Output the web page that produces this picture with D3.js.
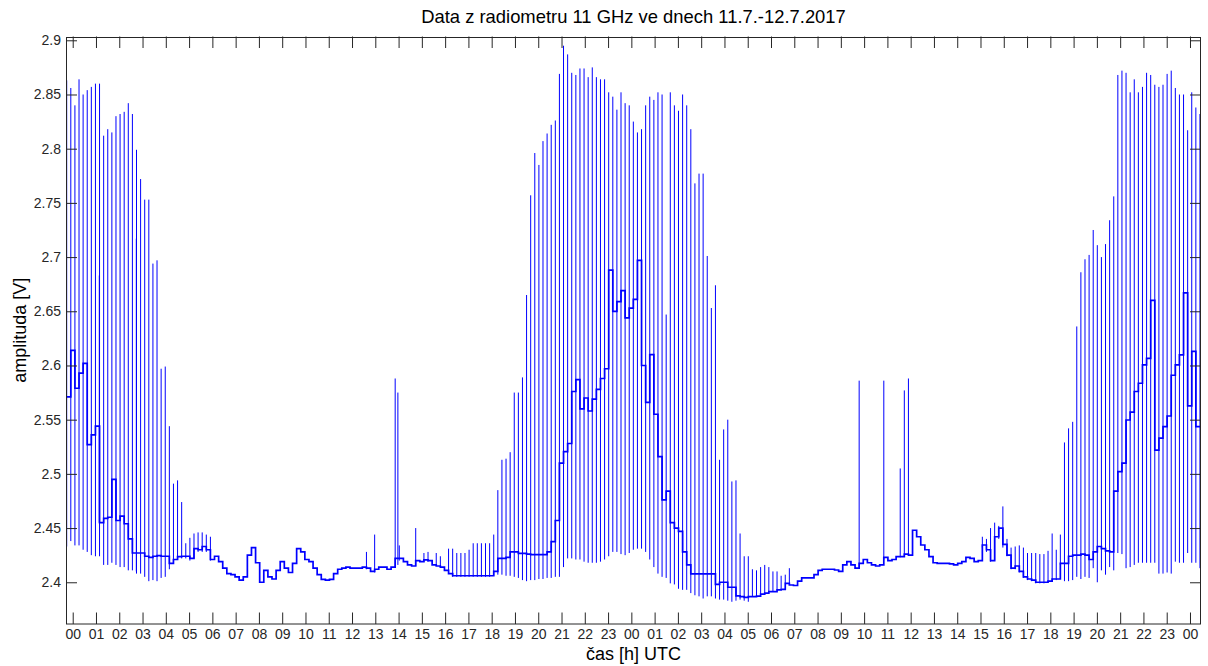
<!DOCTYPE html>
<html><head><meta charset="utf-8">
<script src="https://cdn.jsdelivr.net/npm/d3@7"></script>
<style>
body{margin:0;background:#fff}
text{font-family:"Liberation Sans",Arial,Helvetica,sans-serif}
</style>
</head><body>
<svg id="chart" width="1208" height="666"></svg>
<script>
// ---------- texts ----------
const titleText = "Data z radiometru 11 GHz ve dnech 11.7.-12.7.2017";
const xLabelText = "čas [h] UTC";
const yLabelText = "amplituda [V]";

// ---------- axes ----------
const xDomain = [-0.288, 48.473];          // hours from 11.7. 00:00 UTC
const yDomain = [2.3615, 2.9035];          // volts
const xTickValues = d3.range(0, 49);
const xTickLabels = ["00","01","02","03","04","05","06","07","08","09","10","11","12","13","14","15","16","17","18","19","20","21","22","23",
                     "00","01","02","03","04","05","06","07","08","09","10","11","12","13","14","15","16","17","18","19","20","21","22","23","00"];
const yTickValues = [2.4,2.45,2.5,2.55,2.6,2.65,2.7,2.75,2.8,2.85,2.9];
const yTickLabels = ["2.4","2.45","2.5","2.55","2.6","2.65","2.7","2.75","2.8","2.85","2.9"];

// ---------- data ----------
// calibration pulses every ~10.6 min, starting at spikeStart (hours)
const spikeStart = -0.258;
const spikePeriod = 0.1764;
const spikeHigh = [
2.863,2.856,2.840,2.864,2.850,2.854,2.857,2.860,2.860,2.812,
2.818,2.815,2.830,2.832,2.834,2.842,2.832,2.799,2.772,2.753,
2.753,2.694,2.697,2.597,2.599,2.544,2.491,2.494,2.474,2.436,
2.441,2.445,2.446,2.446,2.444,2.442,null,null,null,null,
null,null,null,null,null,null,null,null,null,null,
null,null,null,null,null,null,null,null,null,null,
null,null,null,null,null,null,null,null,null,null,
null,null,null,2.428,null,2.444,null,null,null,null,
2.588,2.434,null,null,null,2.450,null,2.427,2.428,null,
2.427,2.424,null,2.431,2.431,2.427,2.427,2.427,2.430,2.436,
2.436,2.436,2.436,2.436,2.444,2.485,2.513,2.514,2.520,2.575,
2.575,2.589,2.665,2.757,2.796,2.785,2.807,2.814,2.822,2.826,
2.869,2.895,2.887,2.870,2.868,2.874,2.874,2.866,2.875,2.866,
2.864,2.864,2.852,2.848,2.836,2.852,2.842,2.840,2.825,2.815,
2.818,2.840,2.848,2.845,2.852,2.850,2.647,2.852,2.840,2.835,
2.850,2.840,2.818,2.768,2.777,2.777,2.701,2.653,2.674,2.513,
2.541,2.550,2.493,2.494,2.445,2.424,2.424,2.412,2.411,2.414,
2.416,2.414,2.410,2.410,2.406,2.407,2.413,null,null,null,
null,null,null,null,null,null,null,null,null,null,
null,null,null,2.586,null,null,null,null,null,2.586,
null,null,null,2.505,2.577,2.588,null,null,null,null,
null,null,null,null,null,null,null,null,null,null,
null,null,null,2.442,2.440,2.450,2.455,2.452,2.470,2.440,
2.432,2.433,2.434,2.432,2.427,2.427,2.427,2.426,2.426,2.429,
2.445,2.430,2.444,2.529,2.542,2.548,2.636,2.686,2.698,2.702,
2.725,2.711,2.700,2.712,2.734,2.756,2.868,2.872,2.870,2.852,
2.864,2.852,2.857,2.870,2.868,2.859,2.857,2.859,2.869,2.872,
2.856,2.850,2.850,2.817,2.852,2.838,2.832];
const spikeLow = [
2.433,2.438,2.434,2.434,2.430,2.428,2.425,2.424,2.424,2.416,
2.416,2.418,2.416,2.414,2.414,2.411,2.411,2.408,2.408,2.405,
2.401,2.402,2.401,2.404,2.405,2.412,2.418,2.421,2.422,2.422,
2.420,2.422,2.428,2.428,2.428,2.420,null,null,null,null,
null,null,null,null,null,null,null,null,null,null,
null,null,null,null,null,null,null,null,null,null,
null,null,null,null,null,null,null,null,null,null,
null,null,null,2.412,null,2.409,null,null,null,null,
2.414,2.420,null,null,null,2.415,null,2.419,2.419,null,
2.415,2.414,null,2.408,2.405,2.405,2.405,2.405,2.405,2.405,
2.405,2.405,2.405,2.405,2.406,2.407,2.407,2.406,2.406,2.405,
2.404,2.402,2.401,2.402,2.402,2.403,2.403,2.404,2.404,2.405,
2.405,2.414,2.422,2.422,2.421,2.421,2.419,2.418,2.418,2.418,
2.419,2.421,2.424,2.428,2.428,2.426,2.425,2.427,2.430,2.431,
2.431,2.428,2.421,2.414,2.408,2.405,2.404,2.399,2.398,2.394,
2.393,2.393,2.390,2.388,2.387,2.385,2.387,2.387,2.385,2.384,
2.384,2.383,2.382,2.383,2.384,2.383,2.382,2.387,2.387,2.389,
2.390,2.391,2.391,2.393,2.394,2.399,2.398,null,null,null,
null,null,null,null,null,null,null,null,null,null,
null,null,null,2.414,null,null,null,null,null,2.421,
null,null,null,2.423,2.424,2.425,null,null,null,null,
null,null,null,null,null,null,null,null,null,null,
null,null,null,2.432,2.428,2.419,2.420,2.440,2.432,2.424,
2.412,2.412,2.409,2.404,2.402,2.401,2.399,2.399,2.399,2.400,
2.401,2.402,2.416,2.401,2.401,2.402,2.405,2.403,2.405,2.404,
2.413,2.400,2.411,2.407,2.414,2.411,2.427,2.426,2.413,2.414,
2.416,2.418,2.418,2.418,2.418,2.418,2.408,2.408,2.409,2.408,
2.419,2.418,2.418,2.427,2.418,2.418,2.413];
// signal level between pulses
const traceVals = [
2.571,2.614,2.579,2.593,2.602,2.527,2.536,2.544,2.455,2.459,
2.460,2.495,2.457,2.461,2.454,2.440,2.427,2.427,2.427,2.424,
2.423,2.424,2.4245,2.424,2.424,2.4175,2.421,2.4236,2.424,2.424,
2.422,2.431,2.430,2.433,2.430,2.421,2.424,2.419,2.413,2.408,
2.407,2.405,2.402,2.405,2.425,2.432,2.418,2.400,2.411,2.405,
2.403,2.411,2.419,2.413,2.409,2.4175,2.431,2.428,2.421,2.419,
2.413,2.407,2.4027,2.402,2.4027,2.408,2.412,2.413,2.414,2.413,
2.413,2.413,2.414,2.413,2.410,2.412,2.414,2.414,2.412,2.414,
2.422,2.422,2.419,2.416,2.415,2.420,2.419,2.4206,2.420,2.416,
2.415,2.414,2.411,2.408,2.406,2.406,2.406,2.406,2.406,2.406,
2.406,2.406,2.406,2.406,2.410,2.422,2.422,2.423,2.428,2.428,
2.4267,2.4267,2.426,2.4255,2.4255,2.4255,2.4255,2.428,2.4375,2.457,
2.510,2.5205,2.528,2.576,2.587,2.560,2.570,2.558,2.569,2.578,
2.588,2.597,2.688,2.650,2.659,2.669,2.644,2.653,2.661,2.697,
2.600,2.566,2.610,2.555,2.516,2.476,2.484,2.455,2.450,2.447,
2.428,2.416,2.4077,2.4077,2.4077,2.4077,2.4077,2.4077,2.398,2.400,
2.400,2.3954,2.3954,2.3874,2.3867,2.386,2.3867,2.3867,2.3873,2.389,
2.390,2.3913,2.3913,2.393,2.3935,2.399,2.3975,2.397,2.401,2.404,
2.404,2.404,2.407,2.411,2.412,2.412,2.412,2.4113,2.410,2.416,
2.419,2.416,2.413,2.4175,2.421,2.418,2.416,2.415,2.416,2.423,
2.420,2.421,2.4236,2.4236,2.426,2.425,2.448,2.442,2.4344,2.430,
2.4236,2.418,2.4175,2.4175,2.4175,2.417,2.416,2.4175,2.419,2.423,
2.422,2.419,2.420,2.4344,2.430,2.420,2.442,2.450,2.435,2.425,
2.413,2.415,2.410,2.405,2.403,2.402,2.400,2.400,2.400,2.401,
2.403,2.403,2.4175,2.4175,2.424,2.425,2.425,2.426,2.425,2.421,
2.428,2.433,2.431,2.429,2.428,2.484,2.502,2.510,2.5497,2.557,
2.576,2.5836,2.6005,2.6066,2.660,2.522,2.533,2.5436,2.5534,2.591,
2.6005,2.6097,2.667,2.5627,2.613,2.5436];
// additional short pulses off the regular grid: [hour, low, high]
const extraPulses = [[1.143,2.455,2.683],[2.733,2.410,2.717],[13.97,2.416,2.575]];

// ---------- layout ----------
const L = 66, R = 1201, T = 36.5, B = 624;
const axisColor = "#262626";
const blue = "#0000ff";

const svg = d3.select("#chart");
const x = d3.scaleLinear().domain(xDomain).range([L, R]);
const y = d3.scaleLinear().domain(yDomain).range([B, T]);

svg.append("defs").append("clipPath").attr("id","clip")
  .append("rect").attr("x",L).attr("y",T).attr("width",R-L).attr("height",B-T);
const plot = svg.append("g").attr("clip-path","url(#clip)");

// pulses
const pulses = spikeHigh.map((h,i)=>({t: spikeStart + i*spikePeriod, lo: spikeLow[i], hi: h}))
  .filter(d => d.hi != null)
  .concat(extraPulses.map(e => ({t:e[0], lo:e[1], hi:e[2]})));
plot.selectAll("line.pulse").data(pulses).join("line")
  .attr("class","pulse")
  .attr("x1", d=>x(d.t)).attr("x2", d=>x(d.t))
  .attr("y1", d=>y(d.lo)).attr("y2", d=>y(d.hi))
  .attr("stroke", blue).attr("stroke-width", 1);

// trace
const tracePts = traceVals.map((v,i)=>[spikeStart + i*spikePeriod, v]);
tracePts.unshift([xDomain[0], traceVals[0]]);
tracePts.push([xDomain[1], traceVals[traceVals.length-1]]);
plot.append("path").datum(tracePts)
  .attr("fill","none").attr("stroke",blue).attr("stroke-width",1.7)
  .attr("d", d3.line().x(d=>x(d[0])).y(d=>y(d[1])).curve(d3.curveStepAfter));

// axes
function styleAxis(g){
  g.select(".domain").remove();
  g.selectAll(".tick line").attr("stroke", axisColor);
  g.selectAll(".tick text").attr("fill", axisColor).style("font-size","14px");
}
svg.append("g").attr("transform",`translate(0,${B})`)
  .call(d3.axisBottom(x).tickValues(xTickValues).tickFormat((d,i)=>xTickLabels[i]).tickSizeInner(-11.5).tickSizeOuter(0).tickPadding(5))
  .call(styleAxis);
svg.append("g").attr("transform",`translate(0,${T})`)
  .call(d3.axisTop(x).tickValues(xTickValues).tickFormat("").tickSizeInner(-11.5).tickSizeOuter(0))
  .call(styleAxis);
svg.append("g").attr("transform",`translate(${L},0)`)
  .call(d3.axisLeft(y).tickValues(yTickValues).tickFormat((d,i)=>yTickLabels[i]).tickSizeInner(-11).tickSizeOuter(0).tickPadding(5))
  .call(styleAxis);
svg.append("g").attr("transform",`translate(${R},0)`)
  .call(d3.axisRight(y).tickValues(yTickValues).tickFormat("").tickSizeInner(-11).tickSizeOuter(0))
  .call(styleAxis);

svg.append("rect").attr("x",L+0.5).attr("y",Math.round(T)+0.5)
  .attr("width",R-L-1).attr("height",B-Math.round(T)-0.5)
  .attr("fill","none").attr("stroke",axisColor).attr("stroke-width",1);

// labels
svg.append("text").attr("x",(L+R)/2).attr("y",23).attr("text-anchor","middle")
  .style("font-size","18.4px").attr("fill","#000").text(titleText);
svg.append("text").attr("x",(L+R)/2).attr("y",660).attr("text-anchor","middle")
  .style("font-size","18px").attr("fill","#000").text(xLabelText);
svg.append("text").attr("transform",`translate(26,${(T+B)/2}) rotate(-90)`).attr("text-anchor","middle")
  .style("font-size","18px").attr("fill","#000").text(yLabelText);
</script>
</body></html>
